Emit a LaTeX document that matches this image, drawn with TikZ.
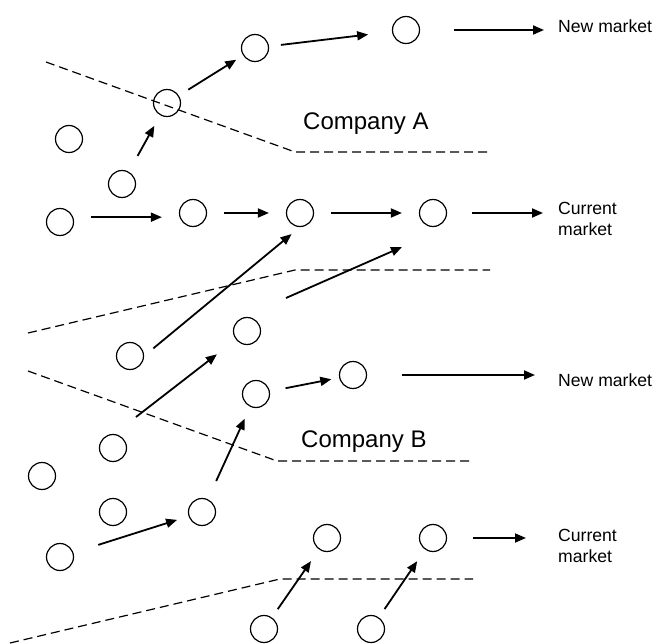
\documentclass[tikz,border=0pt]{standalone}
\usepackage{fontspec}
\setmainfont{Liberation Sans}
\usetikzlibrary{arrows.meta}

\begin{document}
\begin{tikzpicture}[x=1pt, y=-1pt]
                    \tikzstyle{firm} = [circle, draw, line width=1.2pt, minimum size=27pt, inner sep=0pt]
                    \tikzstyle{arrow} = [-{Triangle[length=11pt,width=9pt]}, line width=1.8pt]
                    \tikzstyle{border} = [dash pattern=on 9pt off 5pt, line width=1.2pt]
                    \tikzstyle{market} = [anchor=west, inner sep=0pt, align=left, font=\fontsize{17.6}{21}\selectfont]
                    \tikzstyle{company} = [anchor=base west, inner sep=0pt, font=\fontsize{24}{28}\selectfont]

                    \useasboundingbox (0,0) rectangle (659,644);

                    \draw[border] (46,62) -- (295,152) -- (490,152);
                    \draw[border] (28,333) -- (295,270) -- (490,270);
                    \draw[border] (28,371) -- (277,461) -- (473,461);
                    \draw[border] (10,643) -- (280,579) -- (473,579);

                    \node[firm] (a1) at (255,48) {};
                    \node[firm] (a2) at (406,30) {};
                    \node[firm] (a3) at (167,103) {};
                    \node[firm] (a4) at (69,139) {};
                    \node[firm] (a5) at (122,184) {};
                    \node[firm] (a6) at (60,222) {};
                    \node[firm] (a7) at (193,213) {};
                    \node[firm] (a8) at (300,213) {};
                    \node[firm] (a9) at (433,213) {};

                    \node[firm] (b1) at (130,356) {};
                    \node[firm] (b2) at (247,331) {};
                    \node[firm] (b3) at (353,375) {};
                    \node[firm] (b4) at (256,394) {};
                    \node[firm] (b5) at (113,448) {};
                    \node[firm] (b6) at (42,476) {};
                    \node[firm] (b7) at (113,512) {};
                    \node[firm] (b8) at (202,512) {};
                    \node[firm] (b9) at (60,557) {};
                    \node[firm] (b10) at (327,538) {};
                    \node[firm] (b11) at (433,538) {};
                    \node[firm] (b12) at (264,629) {};
                    \node[firm] (b13) at (371,629) {};

                    \node[company] (compA) at (303,130) {Company A};
                    \node[company] (compB) at (301,447) {Company B};
                    \node[market] (newA) at (558,26) {New market};
                    \node[market, anchor=north west] (curA) at (558,202) {Current\\market};
                    \node[market] (newB) at (558,380.5) {New market};
                    \node[market, anchor=north west] (curB) at (558,529) {Current\\market};

                    \coordinate (crossS) at (286,298);
                    \coordinate (crossE) at (402,247);
                    \coordinate (edgeB) at (136,417);

                    \draw[arrow, shorten <=18pt, shorten >=12pt] (a5) -- (a3);
                    \draw[arrow, shorten <=11pt, shorten >=8pt] (a3) -- (a1);
                    \draw[arrow, shorten <=12pt, shorten >=24pt] (a1) -- (a2);
                    \draw[arrow, shorten <=34pt, shorten >=14pt] (a2) -- (a2 -| newA.west);
                    \draw[arrow, shorten <=18pt, shorten >=17pt] (a6.20) -- (a7.west |- a6.20);
                    \draw[arrow, shorten <=17pt, shorten >=17pt] (a7) -- (a8);
                    \draw[arrow, shorten <=17pt, shorten >=17pt] (a8) -- (a9);
                    \draw[arrow, shorten <=25pt, shorten >=15pt] (a9) -- (a9 -| curA.west);

                    \draw[arrow, shorten <=12pt, shorten >=11pt] (b1.east) -- (a8.south);
                    \draw[arrow] (crossS) -- (crossE);
                    \draw[arrow, shorten >=24pt] (edgeB) -- (b2);
                    \draw[arrow, shorten <=16pt, shorten >=8pt] (b4) -- (b3);
                    \draw[arrow, shorten <=35pt, shorten >=23pt] (b3) -- (b3 -| newB.west);
                    \draw[arrow, shorten <=20pt, shorten >=13pt] (b8) -- (b4);
                    \draw[arrow, shorten <=26pt, shorten >=12pt] (b9) -- (b8);
                    \draw[arrow, shorten <=10pt, shorten >=14pt] (b12) -- (b10);
                    \draw[arrow, shorten <=10pt, shorten >=14pt] (b13) -- (b11);
                    \draw[arrow, shorten <=26pt, shorten >=32pt] (b11) -- (b11 -| curB.west);
                \end{tikzpicture}
\end{document}
